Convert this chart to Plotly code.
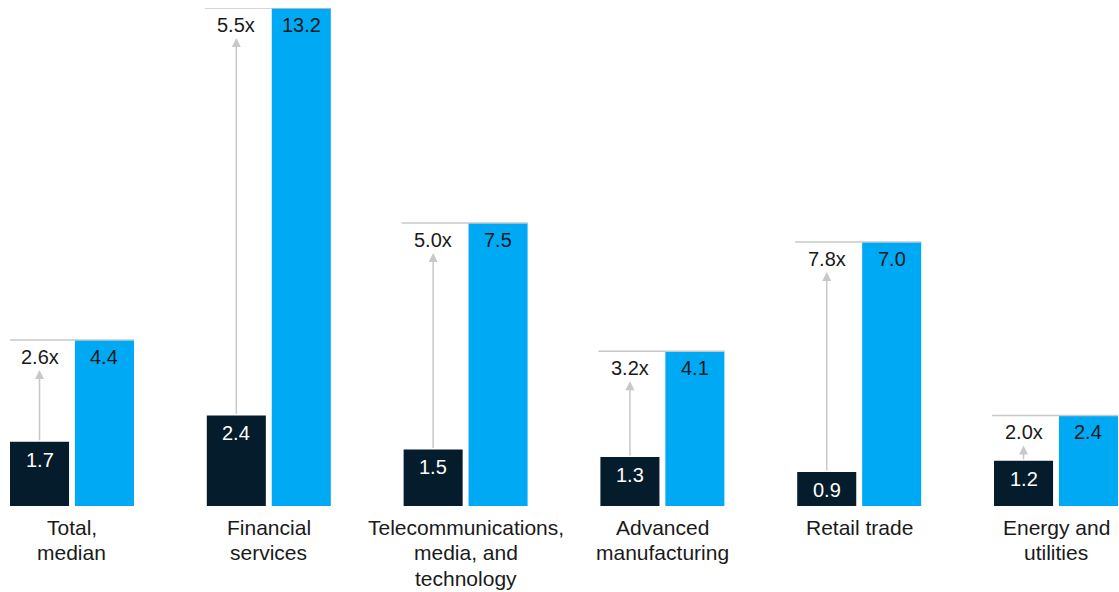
import plotly.graph_objects as go

categories = [["Total,", "median"], ["Financial", "services"],
              ["Telecommunications,", "media, and", "technology"],
              ["Advanced", "manufacturing"], ["Retail trade"], ["Energy and", "utilities"]]
before_vals = [1.7, 2.4, 1.5, 1.3, 0.9, 1.2]
after_vals = [4.4, 13.2, 7.5, 4.1, 7.0, 2.4]
ratio_labels = ["2.6x", "5.5x", "5.0x", "3.2x", "7.8x", "2.0x"]

DARK = "#051c2c"
BLUE = "#00a9f4"
GRAY = "#c8c8c8"
TXT = "#1a1a1a"
FONT = "Liberation Sans, Arial, sans-serif"

off = 0.165
bw = 0.3
idx = list(range(len(categories)))
x_dark = [i - off for i in idx]
x_blue = [i + off for i in idx]

fig = go.Figure()
fig.add_trace(go.Bar(x=x_dark, y=before_vals, width=bw, marker=dict(color=DARK, line=dict(width=0)),
                     hoverinfo="skip", showlegend=False))
fig.add_trace(go.Bar(x=x_blue, y=after_vals, width=bw, marker=dict(color=BLUE, line=dict(width=0)),
                     hoverinfo="skip", showlegend=False))

annotations = []
shapes = []
for i in idx:
    shapes.append(dict(type="line", xref="x", yref="y",
                       x0=x_dark[i] - bw / 2 - 0.01, x1=x_blue[i] + bw / 2,
                       y0=after_vals[i], y1=after_vals[i],
                       line=dict(color=GRAY, width=1.5), layer="above"))
    annotations.append(dict(x=x_dark[i], y=after_vals[i], xref="x", yref="y",
                            ax=x_dark[i], ay=before_vals[i], axref="x", ayref="y",
                            text="", showarrow=True, arrowhead=2, arrowsize=1.2,
                            arrowwidth=1.5, arrowcolor=GRAY, standoff=30))
    annotations.append(dict(x=x_dark[i], y=after_vals[i], xref="x", yref="y",
                            text=ratio_labels[i], showarrow=False, yanchor="middle", yshift=-17,
                            font=dict(family=FONT, size=20, color=TXT)))
    annotations.append(dict(x=x_dark[i], y=before_vals[i], xref="x", yref="y",
                            text=f"{before_vals[i]:.1f}", showarrow=False, yanchor="middle", yshift=-18,
                            font=dict(family=FONT, size=20, color="white")))
    annotations.append(dict(x=x_blue[i], y=after_vals[i], xref="x", yref="y",
                            text=f"{after_vals[i]:.1f}", showarrow=False, yanchor="middle", yshift=-17,
                            font=dict(family=FONT, size=20, color=TXT)))
    for k, line in enumerate(categories[i]):
        annotations.append(dict(x=i, y=0, xref="x", yref="paper", text=line,
                                showarrow=False, yanchor="middle", yshift=-21 - 25.5 * k,
                                font=dict(family=FONT, size=21, color=TXT)))

fig.update_layout(
    width=1119, height=592,
    margin=dict(l=10, r=1, t=8, b=86),
    paper_bgcolor="white", plot_bgcolor="white",
    barmode="overlay",
    xaxis=dict(range=[-0.315, 5.315], showgrid=False, zeroline=False, showticklabels=False,
               showline=False, fixedrange=True),
    yaxis=dict(range=[0, 13.2], showgrid=False, zeroline=False, showticklabels=False,
               showline=False, fixedrange=True),
    annotations=annotations, shapes=shapes,
    font=dict(family=FONT),
)
fig.write_html("out.html", config={"displayModeBar": False},
               post_script="document.body.style.margin='0';document.body.style.padding='0';document.body.style.overflow='hidden';")
